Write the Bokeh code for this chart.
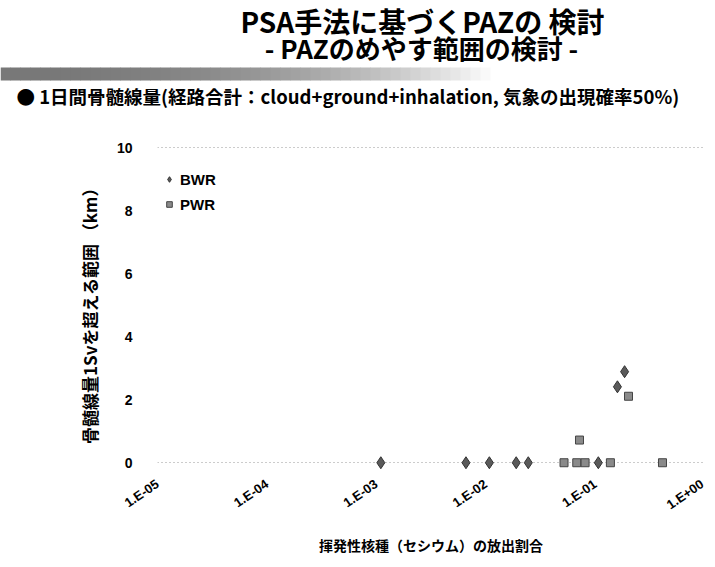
from bokeh.plotting import figure
from bokeh.models import Range1d, FixedTicker, Legend, LegendItem
from bokeh.layouts import column
from bokeh.embed import file_html
from bokeh.resources import INLINE
from bokeh.core.properties import value

# ---- text ----
title_text = "PSA手法に基づくPAZの 検討"
subtitle_text = "- PAZのめやす範囲の検討 -"
bullet_text = "● 1日間骨髄線量(経路合計：cloud+ground+inhalation, 気象の出現確率50%)"
x_title = "揮発性核種（セシウム）の放出割合"
y_title = "骨髄線量1Svを超える範囲 （km）"

# ---- data ----
bwr_release = [1.1e-3, 6.6e-3, 1.08e-2, 1.9e-2, 2.45e-2, 0.107, 0.186, 0.160]
bwr_distance = [0, 0, 0, 0, 0, 0, 2.89, 2.41]
pwr_release = [5.2e-2, 6.8e-2, 8.1e-2, 0.138, 0.413, 0.202, 0.072]
pwr_distance = [0, 0, 0, 0, 0, 2.11, 0.72]
x_ticks = [1e-5, 1e-4, 1e-3, 1e-2, 1e-1, 1.0]
x_tick_labels = ["1.E-05", "1.E-04", "1.E-03", "1.E-02", "1.E-01", "1.E+00"]
y_ticks = [0, 2, 4, 6, 8, 10]

W = 706
HH = 118
JP = "Noto Sans CJK JP"

# ---- header figure (pixel coordinates, y downwards) ----
hdr = figure(width=W, height=HH, x_range=Range1d(0, W), y_range=Range1d(HH, 0),
             output_backend="svg", toolbar_location=None, min_border=0,
             min_border_left=0, min_border_right=0, min_border_top=0, min_border_bottom=0,
             x_axis_location=None, y_axis_location=None)
hdr.grid.visible = False
hdr.outline_line_color = None

n = 50
bar_right = 500
lefts, rights, cols = [], [], []
for i in range(n):
    t = i / (n - 1)
    g = min(255, int(120 + 135 * (t ** 2.2)))
    lefts.append(bar_right * i / n)
    rights.append(bar_right * (i + 1) / n + 0.5)
    cols.append("#%02x%02x%02x" % (g, g, g))
hdr.quad(left=lefts, right=rights, top=[67] * n, bottom=[80] * n, fill_color=cols, line_color=None)

hdr.text(x=[422], y=[20], text=[title_text], text_align="center", text_baseline="middle",
         text_line_height=1.0,
         text_font=value(JP), text_font_style="bold", text_font_size="28px", text_color="black")
hdr.text(x=[421], y=[47], text=[subtitle_text], text_align="center", text_baseline="middle",
         text_line_height=1.0,
         text_font=value(JP), text_font_style="bold", text_font_size="26px", text_color="black")
hdr.text(x=[16], y=[95], text=[bullet_text], text_align="left", text_baseline="middle",
         text_line_height=1.0,
         text_font=value(JP), text_font_style="bold", text_font_size="18.5px", text_color="black")

# ---- main chart ----
p = figure(width=W, height=440, x_axis_type="log",
           x_range=Range1d(1e-5, 1.0), y_range=Range1d(-0.5, 10.1),
           output_backend="svg", toolbar_location=None,
           min_border_left=157, min_border_right=2, min_border_top=26, min_border_bottom=62)
for fig in (hdr, p):
    if "frame_align" in fig.properties():
        fig.frame_align = False

p.outline_line_color = None
p.xgrid.visible = False
p.ygrid.ticker = FixedTicker(ticks=[0, 10])
p.ygrid.grid_line_color = "#999999"
p.ygrid.grid_line_dash = "1 3"

p.xaxis.ticker = FixedTicker(ticks=x_ticks)
p.xaxis.major_label_overrides = {t: l for t, l in zip(x_ticks, x_tick_labels)}
p.xaxis.major_label_orientation = 0.6
p.yaxis.ticker = FixedTicker(ticks=y_ticks)
for ax in (p.xaxis, p.yaxis):
    ax.axis_line_color = None
    ax.major_tick_line_color = None
    ax.minor_tick_line_color = None
    ax.major_tick_out = 0
    ax.major_tick_in = 0
    ax.minor_tick_out = 0
    ax.minor_tick_in = 0
    ax.major_label_text_font = "Liberation Sans"
    ax.major_label_text_font_style = "bold"
    ax.major_label_text_color = "black"
    ax.axis_label_text_font = JP
    ax.axis_label_text_font_style = "bold"
    ax.axis_label_text_color = "black"
p.xaxis.major_label_text_font_size = "13px"
p.yaxis.major_label_text_font_size = "14px"
p.yaxis.major_label_standoff = 25
p.xaxis.major_label_standoff = 4
p.xaxis.axis_label = x_title
p.yaxis.axis_label = y_title
p.xaxis.axis_label_text_font_size = "14px"
p.yaxis.axis_label_text_font_size = "17px"
p.xaxis.axis_label_standoff = 14
p.yaxis.axis_label_standoff = 12

r1 = p.scatter(bwr_release, bwr_distance, marker="diamond", size=12,
               fill_color="#5a5a5a", line_color="#333333")
r2 = p.scatter(pwr_release, pwr_distance, marker="square", size=8,
               fill_color="#8a8a8a", line_color="#444444")

legend = Legend(items=[LegendItem(label="BWR", renderers=[r1]),
                       LegendItem(label="PWR", renderers=[r2])],
                location=(5, 265), padding=0, spacing=7, margin=0,
                label_height=14, glyph_height=18, glyph_width=14, label_standoff=4,
                background_fill_alpha=0, border_line_color=None,
                label_text_font="Liberation Sans", label_text_font_style="bold",
                label_text_font_size="15px", label_text_color="black")
p.add_layout(legend)

layout = column(hdr, p, spacing=0)
open("out.html", "w").write(file_html(layout, INLINE))
